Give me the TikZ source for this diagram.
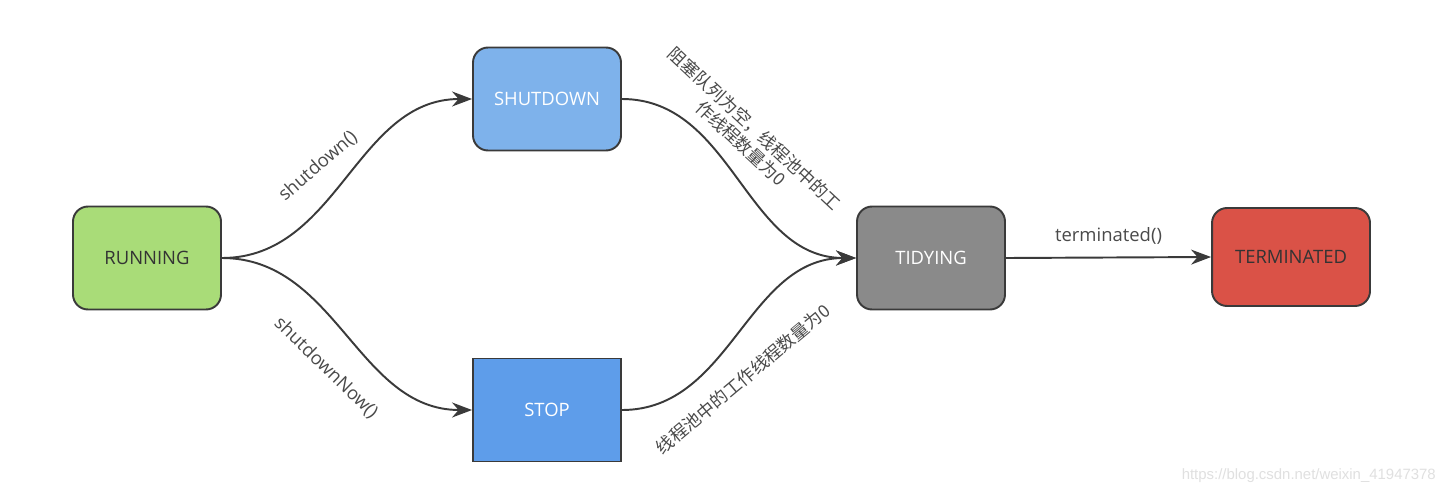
\documentclass[tikz,border=0pt]{standalone}
\usepackage{fontspec}
\setmainfont{Open Sans}
\newfontfamily\cjk{Noto Sans CJK SC}
\newfontfamily\wmfont{Liberation Sans}
\usetikzlibrary{arrows.meta,positioning}
\definecolor{runfill}{HTML}{A9DC78}
\definecolor{shutfill}{HTML}{7EB2EB}
\definecolor{stopfill}{HTML}{5E9DEA}
\definecolor{tidyfill}{HTML}{8A8A8A}
\definecolor{termfill}{HTML}{DA5247}
\definecolor{edgegray}{HTML}{3A3A3A}
\definecolor{labelgray}{HTML}{4A4A4A}
\tikzset{
  statebox/.style={draw=edgegray, line width=1.1pt, rounded corners=0.3cm,
    minimum width=2.96cm, minimum height=2.06cm, align=center,
    font=\fontsize{10.5}{12}\selectfont},
  runbox/.style={statebox, fill=runfill, text=black!80},
  shutbox/.style={statebox, fill=shutfill, text=white},
  stopbox/.style={statebox, fill=stopfill, text=white, rounded corners=0pt},
  tidybox/.style={statebox, fill=tidyfill, text=white},
  termbox/.style={statebox, fill=termfill, text=black!80},
  arr/.style={-{Stealth[length=4mm,width=3mm]}, line width=1.1pt, draw=edgegray},
  edgelabel/.style={text=labelgray, font=\fontsize{10.5}{12}\selectfont, inner sep=1pt},
  cnlabel/.style={text=labelgray, font=\cjk\fontsize{10}{11.5}\selectfont, inner sep=1pt, align=center}
}
\begin{document}
\begin{tikzpicture}[x=0.02cm, y=-0.02cm]
  \useasboundingbox[fill=white] (0,0) rectangle (1452,494);
  \node[runbox] (running) at (147,258) {RUNNING};
  \node[shutbox] (shutdown) at (547,99) {SHUTDOWN};
  \node[stopbox] (stop) at (547,410) {STOP};
  \node[tidybox] (tidying) at (931,258) {TIDYING};
  \node[termbox, minimum width=3.16cm, minimum height=1.96cm] (terminated) at (1291,257) {TERMINATED};
  \draw[arr] (running.east) to[out=0, in=180] (shutdown.west);
  \draw[arr] (running.east) to[out=0, in=180] (stop.west);
  \draw[arr] (shutdown.east) to[out=0, in=180] (tidying.west);
  \draw[arr] (stop.east) to[out=0, in=180] (tidying.west);
  \draw[arr] (tidying.east) -- node[edgelabel, above=6pt] {terminated()} (terminated.west);
  % labels along the curves
  \node[edgelabel, rotate=41] (downlabel) at (318,166) {shutdown()};
  \node[edgelabel, rotate=-44] (nowlabel) at (326,368) {shutdownNow()};
  \node[cnlabel, rotate=-43] (emptylabel) at (748,136) {阻塞队列为空，线程池中的工\\作线程数量为0};
  \node[cnlabel, rotate=40] (zerolabel) at (743,379) {线程池中的工作线程数量为0};
  \node[text=black!12, font=\wmfont\fontsize{8.5}{10}\selectfont, anchor=east] (mark) at (1442,476) {https://blog.csdn.net/weixin\_41947378};
\end{tikzpicture}
\end{document}
